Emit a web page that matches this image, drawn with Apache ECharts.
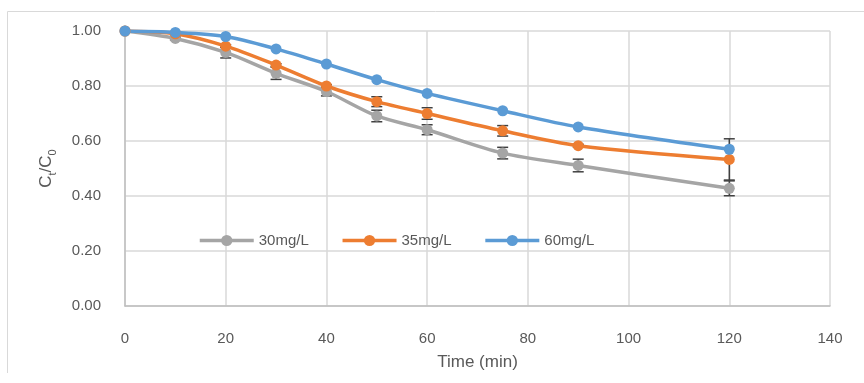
<!DOCTYPE html>
<html>
<head>
<meta charset="utf-8">
<script src="https://cdn.jsdelivr.net/npm/echarts@6/dist/echarts.min.js"></script>
<style>
html,body{margin:0;padding:0;background:#fff;}
#c{width:864px;height:383px;}
</style>
</head>
<body>
<div id="c"></div>
<script>
const times = [0, 10, 20, 30, 40, 50, 60, 75, 90, 120];
const seriesNames = ['30mg/L', '35mg/L', '60mg/L'];
const s30 = [1.00, 0.973, 0.922, 0.846, 0.780, 0.691, 0.641, 0.556, 0.511, 0.428];
const s35 = [1.00, 0.990, 0.945, 0.876, 0.800, 0.743, 0.700, 0.637, 0.583, 0.533];
const s60 = [1.00, 0.995, 0.980, 0.935, 0.880, 0.823, 0.773, 0.710, 0.651, 0.570];
const e30 = [0, 0.005, 0.020, 0.022, 0.016, 0.021, 0.018, 0.021, 0.023, 0.027];
const e35 = [0, 0.003, 0.005, 0.005, 0.005, 0.018, 0.021, 0.019, 0.005, 0.075];
const e60 = [0, 0, 0, 0, 0, 0, 0, 0, 0, 0];
const yTicks = [0, 0.2, 0.4, 0.6, 0.8, 1.0];
const xTicks = [0, 20, 40, 60, 80, 100, 120, 140];

const colors = ['#A5A5A5', '#ED7D31', '#5B9BD5'];
const vals = [s30, s35, s60];
const errs = [e30, e35, e60];

function pairs(v) { return times.map((t, i) => [t, v[i]]); }

function errSeries(idx) {
  return {
    type: 'custom',
    silent: true,
    legendHoverLink: false,
    data: times.map((t, i) => [t, vals[idx][i], errs[idx][i]]),
    renderItem: function (params, api) {
      const x = api.value(0), y = api.value(1), e = api.value(2);
      if (!e) return null;
      const top = api.coord([x, y + e]);
      const bot = api.coord([x, y - e]);
      const hw = 5.5;
      const st = { stroke: '#404040', lineWidth: 1.5 };
      return {
        type: 'group',
        children: [
          { type: 'line', shape: { x1: top[0], y1: top[1], x2: bot[0], y2: bot[1] }, style: st },
          { type: 'line', shape: { x1: top[0] - hw, y1: top[1], x2: top[0] + hw, y2: top[1] }, style: st },
          { type: 'line', shape: { x1: bot[0] - hw, y1: bot[1], x2: bot[0] + hw, y2: bot[1] }, style: st }
        ]
      };
    },
    z: 2
  };
}

function lineSeries(idx) {
  return {
    name: seriesNames[idx],
    type: 'line',
    data: pairs(vals[idx]),
    smooth: 0.3,
    symbol: 'circle',
    symbolSize: 11,
    showAllSymbol: true,
    lineStyle: { color: colors[idx], width: 3.5 },
    itemStyle: { color: colors[idx] },
    z: 2
  };
}

const chart = echarts.init(document.getElementById('c'), null, { renderer: 'canvas' });
const font = '"Liberation Sans", Arial, sans-serif';
chart.setOption({
  animation: false,
  textStyle: { fontFamily: font },
  grid: { left: 125, right: 34, top: 31, bottom: 77, containLabel: false },
  graphic: [{
    type: 'polyline',
    shape: { points: [[7.5, 373], [7.5, 11.5], [864, 11.5]] },
    style: { stroke: '#d9d9d9', lineWidth: 1, fill: null },
    silent: true
  }],
  legend: {
    left: 198,
    top: 233,
    padding: 0,
    itemWidth: 54,
    itemHeight: 14,
    itemGap: 32,
    lineStyle: { width: 3.5 },
    textStyle: { color: '#595959', fontSize: 15, fontFamily: font },
    data: seriesNames
  },
  xAxis: {
    type: 'value',
    min: xTicks[0],
    max: xTicks[xTicks.length - 1],
    interval: 20,
    name: 'Time (min)',
    nameLocation: 'middle',
    nameGap: 48,
    nameTextStyle: { color: '#595959', fontSize: 17, fontFamily: font },
    axisLine: { show: true, lineStyle: { color: '#bfbfbf', width: 1.5 } },
    axisTick: { show: false },
    axisLabel: { color: '#595959', fontSize: 15, margin: 25, fontFamily: font },
    splitLine: { show: true, lineStyle: { color: '#d9d9d9', width: 1.5 } }
  },
  yAxis: {
    type: 'value',
    min: yTicks[0],
    max: yTicks[yTicks.length - 1],
    interval: 0.2,
    name: '{n|C}{s|t}{n|/C}{s|0}',
    nameLocation: 'middle',
    nameGap: 70,
    nameRotate: 90,
    nameTextStyle: {
      color: '#595959', fontFamily: font,
      rich: {
        n: { fontSize: 17, color: '#595959', fontFamily: font, lineHeight: 22, verticalAlign: 'bottom' },
        s: { fontSize: 11, color: '#595959', fontFamily: font, lineHeight: 22, verticalAlign: 'bottom', padding: [0, 0, -3, 0] }
      }
    },
    axisLine: { show: true, lineStyle: { color: '#bfbfbf', width: 1.5 } },
    axisTick: { show: false },
    axisLabel: { color: '#595959', fontSize: 15, margin: 24, fontFamily: font, formatter: v => v.toFixed(2) },
    splitLine: { show: true, lineStyle: { color: '#d9d9d9', width: 1.5 } }
  },
  series: [errSeries(0), lineSeries(0), errSeries(1), lineSeries(1), lineSeries(2)]
});
</script>
</body>
</html>
